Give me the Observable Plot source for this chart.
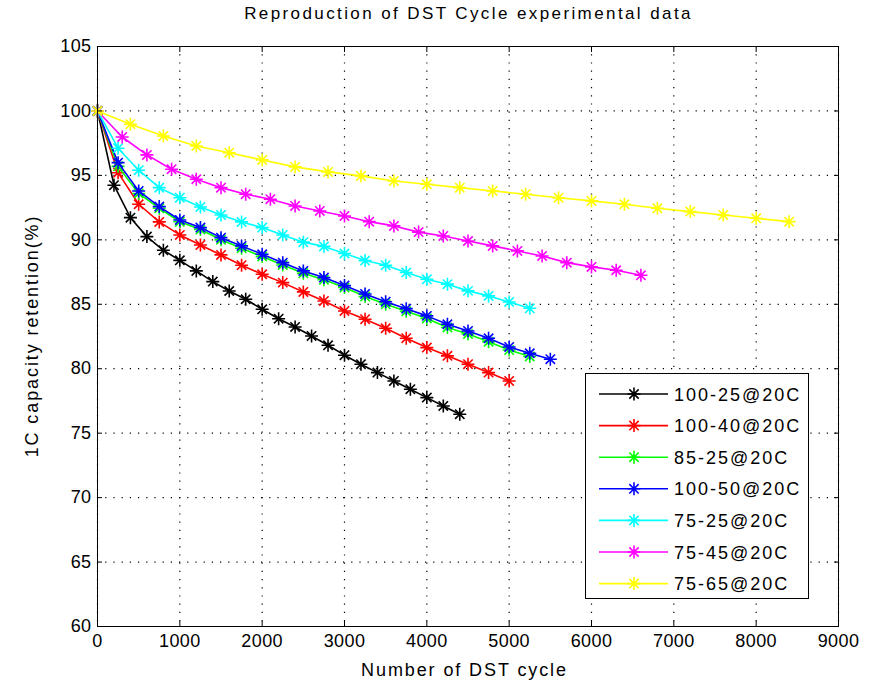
<!DOCTYPE html>
<html>
<head>
<meta charset="utf-8">
<script src="https://cdn.jsdelivr.net/npm/d3@7"></script>
<script src="https://cdn.jsdelivr.net/npm/@observablehq/plot@0.6"></script>
<style>
  html, body { margin: 0; padding: 0; background: #fff; }
  #wrap { position: relative; width: 870px; height: 687px; overflow: hidden; background: #fff; }
  #legend { position: absolute; left: 585px; top: 373px; width: 222px; height: 224px;
            border: 1px solid #000; background: #fff; }
  #legend svg { display: block; }
</style>
</head>
<body>
<div id="wrap"></div>
<script>
// ---- Data ----
const seriesNames  = ["100-25@20C", "100-40@20C", "85-25@20C", "100-50@20C", "75-25@20C", "75-45@20C", "75-65@20C"];
const seriesColors = ["#000000", "#ff0000", "#00ff00", "#0000ff", "#00ffff", "#ff00ff", "#ffff00"];

const cyclesBlack   = [0,200,400,600,800,1000,1200,1400,1600,1800,2000,2200,2400,2600,2800,3000,3200,3400,3600,3800,4000,4200,4400];
const retentionBlack = [100,94.24,91.72,90.25,89.19,88.41,87.59,86.76,86.03,85.39,84.61,83.88,83.24,82.54,81.82,81.05,80.35,79.70,79.05,78.41,77.76,77.11,76.47];

const cyclesRed     = [0,250,500,750,1000,1250,1500,1750,2000,2250,2500,2750,3000,3250,3500,3750,4000,4250,4500,4750,5000];
const retentionRed  = [100,95.21,92.76,91.39,90.38,89.60,88.83,88.03,87.33,86.68,85.96,85.26,84.48,83.84,83.14,82.37,81.64,81.00,80.35,79.70,79.05];

const cyclesGreen   = [0,250,500,750,1000,1250,1500,1750,2000,2250,2500,2750,3000,3250,3500,3750,4000,4250,4500,4750,5000,5250];
const retentionGreen = [100,95.70,93.60,92.45,91.40,90.80,90.00,89.35,88.70,88.05,87.40,86.90,86.30,85.60,85.00,84.45,83.90,83.20,82.70,82.10,81.45,80.95];

const cyclesBlue    = [0,250,500,750,1000,1250,1500,1750,2000,2250,2500,2750,3000,3250,3500,3750,4000,4250,4500,4750,5000,5250,5500];
const retentionBlue = [100,95.99,93.79,92.58,91.54,90.95,90.17,89.53,88.88,88.23,87.59,87.07,86.45,85.80,85.20,84.66,84.10,83.45,82.93,82.36,81.69,81.20,80.74];

const cyclesCyan    = [0,250,500,750,1000,1250,1500,1750,2000,2250,2500,2750,3000,3250,3500,3750,4000,4250,4500,4750,5000,5250];
const retentionCyan = [100,97.11,95.40,94.05,93.27,92.55,91.93,91.39,90.95,90.38,89.82,89.49,88.94,88.39,88.03,87.46,86.94,86.56,86.04,85.65,85.18,84.69];

const cyclesMagenta = [0,300,600,900,1200,1500,1800,2100,2400,2700,3000,3300,3600,3900,4200,4500,4800,5100,5400,5700,6000,6300,6600];
const retentionMagenta = [100,97.98,96.59,95.48,94.70,94.05,93.54,93.15,92.63,92.24,91.85,91.41,91.08,90.60,90.30,89.91,89.53,89.14,88.75,88.23,87.90,87.64,87.25];

const cyclesYellow  = [0,400,800,1200,1600,2000,2400,2800,3200,3600,4000,4400,4800,5200,5600,6000,6400,6800,7200,7600,8000,8400];
const retentionYellow = [100,98.97,98.06,97.28,96.76,96.20,95.66,95.27,94.96,94.57,94.31,94.05,93.79,93.54,93.27,93.02,92.76,92.45,92.19,91.93,91.67,91.41];

const xTicks = [0,1000,2000,3000,4000,5000,6000,7000,8000,9000];
const yTicks = [60,65,70,75,80,85,90,95,100,105];

const titleText  = "Reproduction of DST Cycle experimental data";
const xLabelText = "Number of DST cycle";
const yLabelText = "1C capacity retention(%)";

// ---- Build series table ----
const seriesCycles = [cyclesBlack, cyclesRed, cyclesGreen, cyclesBlue, cyclesCyan, cyclesMagenta, cyclesYellow];
const seriesValues = [retentionBlack, retentionRed, retentionGreen, retentionBlue, retentionCyan, retentionMagenta, retentionYellow];
const series = seriesNames.map((name, i) => ({
  name, color: seriesColors[i],
  rows: seriesCycles[i].map((c, j) => ({cycle: c, retention: seriesValues[i][j]}))
}));

// MATLAB-style '*' marker: a plus and an x combined
const star = {
  draw(context, size) {
    const r = Math.sqrt(size / Math.PI);
    const d = r * 0.72;
    context.moveTo(-r, 0); context.lineTo(r, 0);
    context.moveTo(0, -r); context.lineTo(0, r);
    context.moveTo(-d, -d); context.lineTo(d, d);
    context.moveTo(-d, d); context.lineTo(d, -d);
  }
};

const W = 870, H = 687;
const mL = 97, mR = 32, mT = 46, mB = 61;
const FONT = "'Liberation Sans', Arial, sans-serif";

const marks = [
  Plot.gridX(xTicks, {stroke: "#000", strokeOpacity: 1, strokeWidth: 1.2, strokeDasharray: "1.2,7"}),
  Plot.gridY(yTicks, {stroke: "#000", strokeOpacity: 1, strokeWidth: 1.2, strokeDasharray: "1.2,7"}),
];
for (const s of series) {
  marks.push(Plot.line(s.rows, {x: "cycle", y: "retention", stroke: s.color, strokeWidth: 1.6}));
  marks.push(Plot.dot(s.rows, {x: "cycle", y: "retention", symbol: star, r: 6.5, stroke: s.color, strokeWidth: 1.6, fill: "none"}));
}
marks.push(
  Plot.frame({stroke: "#000", strokeWidth: 1}),
  Plot.axisX(xTicks, {anchor: "bottom", tickSize: -5, tickFormat: () => "", label: null}),
  Plot.axisX(xTicks, {anchor: "top", tickSize: -5, tickFormat: () => "", label: null}),
  Plot.axisY(yTicks, {anchor: "left", tickSize: -5, tickFormat: () => "", label: null}),
  Plot.axisY(yTicks, {anchor: "right", tickSize: -5, tickFormat: () => "", label: null}),
  Plot.axisX(xTicks, {anchor: "bottom", tickSize: 0, tickPadding: 8, label: null, fill: "#000", fontSize: 18, tickFormat: d => String(d)}),
  Plot.axisY(yTicks, {anchor: "left", tickSize: 0, tickPadding: 6, label: null, fill: "#000", fontSize: 18, tickFormat: d => String(d)})
);

const chart = Plot.plot({
  width: W, height: H,
  marginLeft: mL, marginRight: mR, marginTop: mT, marginBottom: mB,
  x: {domain: [0, 9000]},
  y: {domain: [60, 105]},
  style: {fontFamily: FONT, fontSize: "18px", color: "#000", background: "#fff", letterSpacing: "0.4px"},
  marks
});

const wrap = document.getElementById("wrap");
wrap.appendChild(chart);

// Title and axis labels
const svg = d3.select(chart);
const plotCx = mL + (W - mL - mR) / 2;
const plotCy = mT + (H - mT - mB) / 2;
svg.append("text").text(titleText)
  .attr("x", plotCx + 1).attr("y", 19).attr("text-anchor", "middle")
  .style("font-family", FONT).style("font-size", "17px").style("letter-spacing", "2.4px").attr("fill", "#000");
svg.append("text").text(xLabelText)
  .attr("x", plotCx - 3).attr("y", 676).attr("text-anchor", "middle")
  .style("font-family", FONT).style("font-size", "18px").style("letter-spacing", "1.9px").attr("fill", "#000");
svg.append("text").text(yLabelText)
  .attr("transform", `translate(38,${plotCy}) rotate(-90)`).attr("text-anchor", "middle")
  .style("font-family", FONT).style("font-size", "18px").style("letter-spacing", "1.9px").attr("fill", "#000");

// Legend
const legend = d3.select(wrap).append("div").attr("id", "legend");
const lsvg = legend.append("svg").attr("width", 222).attr("height", 224);
series.forEach((s, i) => {
  const cy = 20 + i * 31.6;
  const g = lsvg.append("g");
  g.append("line").attr("x1", 13).attr("x2", 82).attr("y1", cy).attr("y2", cy)
    .attr("stroke", s.color).attr("stroke-width", 1.6);
  g.append("path").attr("d", d3.symbol(star, Math.PI * 6.5 * 6.5)())
    .attr("transform", `translate(48,${cy})`).attr("stroke", s.color).attr("stroke-width", 1.6).attr("fill", "none");
  g.append("text").text(s.name).attr("x", 88).attr("y", cy + 6.5)
    .style("font-family", FONT).style("font-size", "18px").style("letter-spacing", "2px").attr("fill", "#000");
});
</script>
</body>
</html>
